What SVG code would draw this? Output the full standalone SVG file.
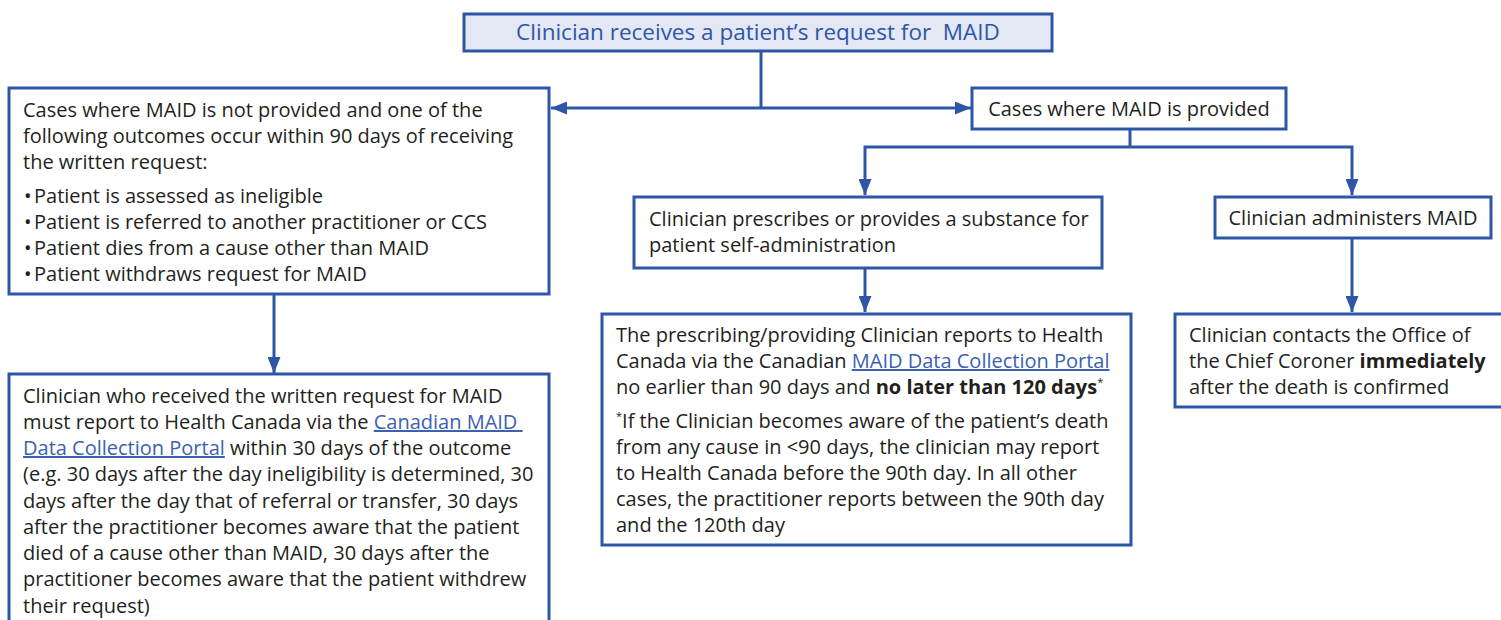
<svg xmlns="http://www.w3.org/2000/svg" width="1501" height="620" viewBox="0 0 1501 620">
<defs>
<style>
.box{fill:#ffffff;stroke:#2e56a6;stroke-width:3}
.top{fill:#e4e7f4;stroke:#2e56a6;stroke-width:3}
.t{font-family:"Open Sans","Liberation Sans",sans-serif;font-size:20px;fill:#231f20}
.tt{font-family:"Open Sans","Liberation Sans",sans-serif;font-size:22.5px;fill:#2e56a6}
.b{font-weight:bold}
.lk{fill:#3c61b2;text-decoration:underline}
.sup{font-size:11px}
.c{fill:none;stroke:#2e56a6;stroke-width:3}
</style>
<marker id="ah" viewBox="0 0 16 13" markerUnits="userSpaceOnUse" markerWidth="16" markerHeight="13" refX="16" refY="6.5" orient="auto-start-reverse">
<path d="M0,0 L16,6.5 L0,13 z" fill="#2e56a6"/>
</marker>
</defs>
<rect width="1501" height="620" fill="#ffffff"/>

<g id="connectors">
<line class="c" x1="761" y1="51" x2="761" y2="108"/>
<line class="c" x1="551" y1="108" x2="971" y2="108" marker-start="url(#ah)" marker-end="url(#ah)"/>
<line class="c" x1="274" y1="294" x2="274" y2="373" marker-end="url(#ah)"/>
<line class="c" x1="1130" y1="130" x2="1130" y2="147"/>
<polyline class="c" points="865,195 865,147 1352,147 1352,195" marker-start="url(#ah)" marker-end="url(#ah)"/>
<line class="c" x1="865" y1="268" x2="865" y2="312" marker-end="url(#ah)"/>
<line class="c" x1="1352" y1="238" x2="1352" y2="312" marker-end="url(#ah)"/>
</g>

<g id="n-request">
<rect class="top" x="464" y="14" width="588" height="37"/>
<text class="tt" x="758" y="40" text-anchor="middle" xml:space="preserve">Clinician receives a patient’s request for  MAID</text>
</g>

<g id="n-not-provided">
<rect class="box" x="9" y="88" width="540" height="206"/>
<text class="t">
<tspan x="23" y="117">Cases where MAID is not provided and one of the</tspan>
<tspan x="23" y="143">following outcomes occur within 90 days of receiving</tspan>
<tspan x="23" y="169">the written request:</tspan>
</text>
<text class="t">
<tspan x="24" y="203">•</tspan><tspan x="34" y="203">Patient is assessed as ineligible</tspan>
<tspan x="24" y="229">•</tspan><tspan x="34" y="229">Patient is referred to another practitioner or CCS</tspan>
<tspan x="24" y="255">•</tspan><tspan x="34" y="255">Patient dies from a cause other than MAID</tspan>
<tspan x="24" y="281">•</tspan><tspan x="34" y="281">Patient withdraws request for MAID</tspan>
</text>
</g>

<g id="n-report-not-provided">
<rect class="box" x="9" y="374" width="540" height="260"/>
<text class="t">
<tspan x="23" y="403">Clinician who received the written request for MAID</tspan>
<tspan x="23" y="429">must report to Health Canada via the <tspan class="lk" xml:space="preserve">Canadian MAID </tspan></tspan>
<tspan x="23" y="455"><tspan class="lk">Data Collection Portal</tspan> within 30 days of the outcome</tspan>
<tspan x="23" y="481">(e.g. 30 days after the day ineligibility is determined, 30</tspan>
<tspan x="23" y="508">days after the day that of referral or transfer, 30 days</tspan>
<tspan x="23" y="534">after the practitioner becomes aware that the patient</tspan>
<tspan x="23" y="560">died of a cause other than MAID, 30 days after the</tspan>
<tspan x="23" y="586">practitioner becomes aware that the patient withdrew</tspan>
<tspan x="23" y="613">their request)</tspan>
</text>
</g>

<g id="n-provided">
<rect class="box" x="972" y="88" width="314" height="41"/>
<text class="t" x="1129" y="116" text-anchor="middle">Cases where MAID is provided</text>
</g>

<g id="n-prescribes">
<rect class="box" x="634" y="197" width="468" height="71"/>
<text class="t">
<tspan x="649" y="226">Clinician prescribes or provides a substance for</tspan>
<tspan x="649" y="252">patient self-administration</tspan>
</text>
</g>

<g id="n-administers">
<rect class="box" x="1215" y="197" width="276" height="41"/>
<text class="t" x="1353" y="225" text-anchor="middle">Clinician administers MAID</text>
</g>

<g id="n-report-provided">
<rect class="box" x="602" y="314" width="529" height="231"/>
<text class="t">
<tspan x="616" y="342">The prescribing/providing Clinician reports to Health</tspan>
<tspan x="616" y="368">Canada via the Canadian <tspan class="lk">MAID Data Collection Portal</tspan></tspan>
<tspan x="616" y="394">no earlier than 90 days and <tspan class="b">no later than 120 days</tspan><tspan class="sup" dy="-8">*</tspan></tspan>
<tspan x="616" y="428"><tspan class="sup" dy="-8">*</tspan><tspan dy="8">If the Clinician becomes aware of the patient’s death</tspan></tspan>
<tspan x="616" y="454">from any cause in &lt;90 days, the clinician may report</tspan>
<tspan x="616" y="480">to Health Canada before the 90th day. In all other</tspan>
<tspan x="616" y="506">cases, the practitioner reports between the 90th day</tspan>
<tspan x="616" y="532">and the 120th day</tspan>
</text>
</g>

<g id="n-coroner">
<rect class="box" x="1175" y="314" width="340" height="93"/>
<text class="t">
<tspan x="1189" y="342">Clinician contacts the Office of</tspan>
<tspan x="1189" y="368">the Chief Coroner <tspan class="b">immediately</tspan></tspan>
<tspan x="1189" y="394">after the death is confirmed</tspan>
</text>
</g>
</svg>
